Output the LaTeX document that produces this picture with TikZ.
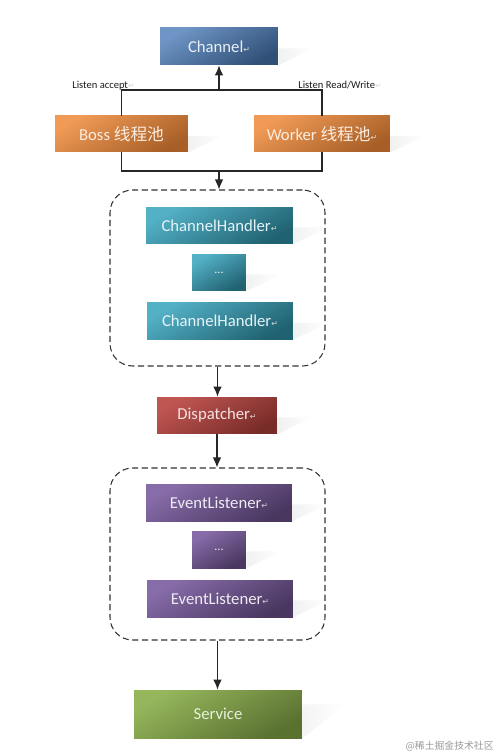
\documentclass[tikz,border=0pt]{standalone}
\usepackage{fontspec}
\setmainfont{Carlito}
\newfontfamily\cjk{Noto Sans CJK SC}
\newfontfamily\symf{DejaVu Sans}
\usepackage{xcolor}
\usetikzlibrary{arrows.meta,backgrounds,calc}
\definecolor{chblue}{HTML}{4A7BB7}
\definecolor{bossor}{HTML}{EE8838}
\definecolor{chteal}{HTML}{35A3BC}
\definecolor{disred}{HTML}{B9433F}
\definecolor{elpurple}{HTML}{7A5CA0}
\definecolor{svgreen}{HTML}{8AAE4A}
\newcommand\retmark{{\symf\fontsize{4.5}{5}\selectfont\textcolor{white!70!gray}{↵}}}

\begin{document}
\begin{tikzpicture}[x=0.02cm,y=-0.02cm,
  blk/.style={minimum height=0.74cm,inner sep=0pt,font=\fontsize{9.5}{11}\selectfont},
  grp/.style={draw=black!80,line width=0.6pt,dash pattern=on 3.5pt off 2pt,rounded corners=0.45cm,minimum width=4.3cm},
  lbl/.style={font=\fontsize{6}{7}\selectfont,text=black!90,inner sep=0pt},
  arr/.style={-{Latex[length=2mm,width=1.7mm]},line width=0.65pt,black!85},
  ln/.style={line width=0.65pt,black!85}]
\useasboundingbox (0,0) rectangle (498,756);

\node[blk,minimum width=2.36cm,text=white!88!chblue,top color=chblue!80!white,bottom color=chblue!65!black,shading angle=30] (channel) at (219,46.5) {Channel\retmark};
\node[blk,minimum width=2.66cm,minimum height=0.72cm,text=white!85!bossor,top color=bossor!85!white,bottom color=bossor!70!black,shading angle=30] (boss) at (121.5,134) {Boss {\cjk 线程池}};
\node[blk,minimum width=2.72cm,minimum height=0.72cm,text=white!85!bossor,top color=bossor!85!white,bottom color=bossor!70!black,shading angle=30] (worker) at (322,134) {Worker {\cjk 线程池}\retmark};

\coordinate (tj) at (219,90);
\coordinate (bj) at (219,171);
\draw[ln] (boss.north) |- (tj) -| (worker.north);
\draw[ln] (boss.south) |- (bj) -| (worker.south);
\draw[arr] (tj) -- (channel.south);
\node[lbl,anchor=base west] (lacc) at (72,89) {Listen accept\retmark};
\node[lbl,anchor=base west] (lrw) at (298,89) {Listen Read/Write\retmark};

% ChannelHandler chain
\node[grp,minimum height=3.52cm] (grp1) at (217.5,278) {};
\node[blk,minimum width=2.94cm,text=white!88!chteal,top color=chteal!85!white,bottom color=chteal!60!black,shading angle=30] (ch1) at (219.5,225.5) {ChannelHandler\retmark};
\node[blk,minimum width=1.08cm,text=white!88!chteal,top color=chteal!85!white,bottom color=chteal!60!black,shading angle=30] (dots1) at (219,272.5) {\fontsize{7}{8}\selectfont...};
\node[blk,minimum width=2.92cm,text=white!88!chteal,top color=chteal!85!white,bottom color=chteal!60!black,shading angle=30] (ch2) at (220,321) {ChannelHandler\retmark};
\draw[arr] (bj) -- (bj |- grp1.north);

\node[blk,minimum width=2.4cm,text=white!85!disred,top color=disred!90!white,bottom color=disred!65!black,shading angle=30] (dispatcher) at (217,415.5) {Dispatcher\retmark};
\draw[arr] (grp1.south) -- (grp1.south |- dispatcher.north);

% EventListener chain
\node[grp,minimum height=3.44cm] (grp2) at (217.5,554) {};
\node[blk,minimum width=2.92cm,text=white!88!elpurple,top color=elpurple!90!white,bottom color=elpurple!60!black,shading angle=30] (el1) at (219,502.5) {EventListener\retmark};
\node[blk,minimum width=1.08cm,text=white!88!elpurple,top color=elpurple!90!white,bottom color=elpurple!60!black,shading angle=30] (dots2) at (219,549.5) {\fontsize{7}{8}\selectfont...};
\node[blk,minimum width=2.92cm,text=white!88!elpurple,top color=elpurple!90!white,bottom color=elpurple!60!black,shading angle=30] (el2) at (220,598.5) {EventListener\retmark};
\draw[arr] (dispatcher.south) -- (dispatcher.south |- grp2.north);

\node[blk,minimum width=3.36cm,minimum height=0.96cm,text=white!80!svgreen,top color=svgreen!90!white,bottom color=svgreen!65!black,shading angle=30] (service) at (218,714) {Service};
\draw[arr] (grp2.south) -- (grp2.south |- service.north);

\node[anchor=east,inner sep=0pt,text=black!40,font=\cjk\fontsize{5.6}{7}\selectfont] (wm) at (494,746) {@稀土掘金技术社区};

% shadows
\begin{scope}[on background layer]
\foreach \n/\c in {channel/chblue,boss/bossor,worker/bossor,ch1/chteal,dots1/chteal,ch2/chteal,dispatcher/disred,el1/elpurple,dots2/elpurple,el2/elpurple}
  \shade[left color=\c!16!black!6,right color=white] ([yshift=-1pt]\n.east) -- ++(35,0) -- (\n.south east) -- cycle;
\shade[left color=svgreen!18!black!5,right color=white] ($(service.north east)!0.3!(service.south east)$) -- ++(43,0) -- (service.south east) -- cycle;
\end{scope}
\end{tikzpicture}
\end{document}
